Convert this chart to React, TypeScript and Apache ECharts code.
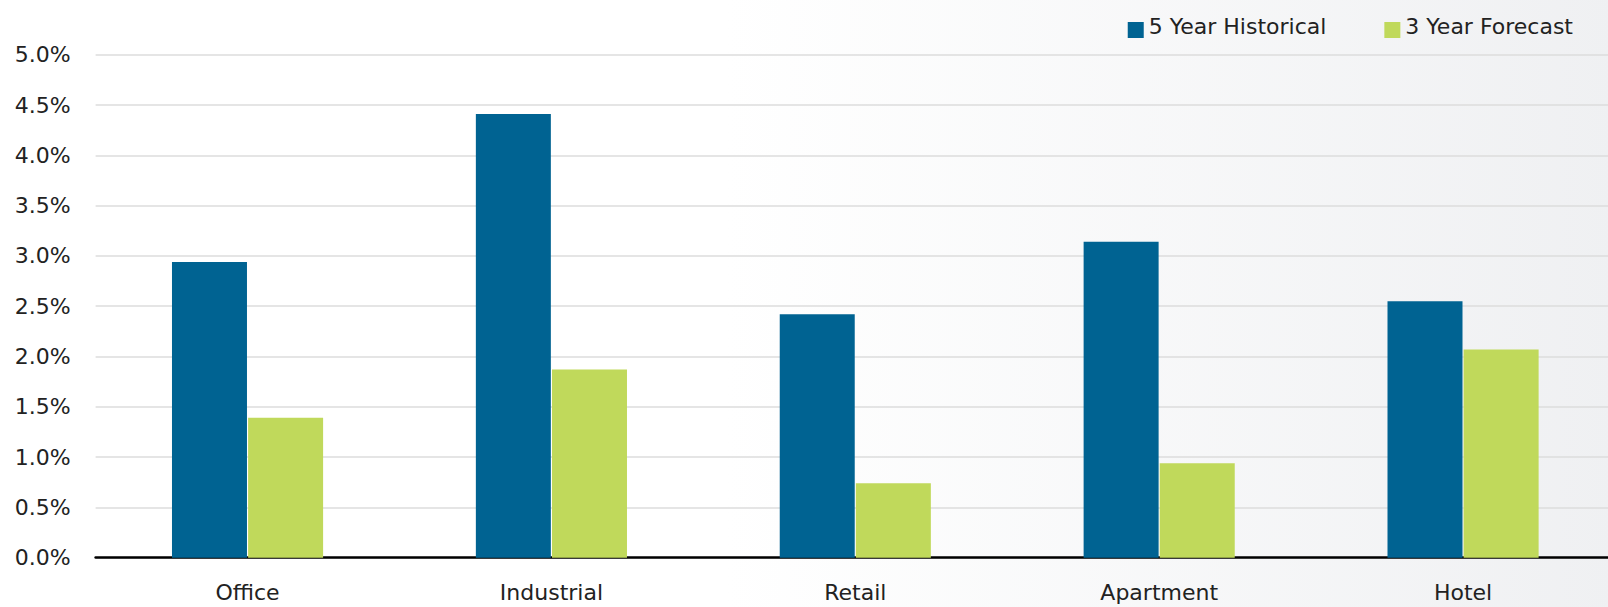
import React, { useEffect, useRef } from "react";
import * as echarts from "echarts";

const categories = ["Office", "Industrial", "Retail", "Apartment", "Hotel"];
const historical = [2.94, 4.41, 2.42, 3.14, 2.55];
const forecast = [1.39, 1.87, 0.74, 0.94, 2.07];
const seriesNames = ["5 Year Historical", "3 Year Forecast"];

const FONT = "'DejaVu Sans', sans-serif";
const TEXT = "#222222";
const LEGEND_ICON = "path://M0,0h0.01v0.01h-0.01z M0,8h16v16h-16z";

export default function App() {
  const ref = useRef<HTMLDivElement>(null);
  useEffect(() => {
    if (!ref.current) return;
    const chart = echarts.init(ref.current, null, { renderer: "svg" });
    chart.setOption({
      animation: false,
      backgroundColor: {
        type: "linear",
        x: 0,
        y: 0,
        x2: 1,
        y2: 0,
        colorStops: [
          { offset: 0, color: "#ffffff" },
          { offset: 0.45, color: "#ffffff" },
          { offset: 1, color: "#eff0f2" },
        ],
      },
      textStyle: { fontFamily: FONT },
      legend: {
        data: seriesNames.map((n) => ({ name: n, icon: LEGEND_ICON })),
        right: 37,
        top: 9,
        itemWidth: 16,
        itemHeight: 24,
        itemGap: 58,
        textStyle: { fontSize: 22, color: TEXT, fontFamily: FONT },
      },
      grid: { left: 95.6, right: 0, top: 54.7, bottom: 49.3 },
      xAxis: {
        type: "category",
        data: categories,
        axisLine: { lineStyle: { color: "#000000", width: 2.5 } },
        axisTick: { show: false },
        axisLabel: { fontSize: 22, color: TEXT, margin: 24, fontFamily: FONT },
      },
      yAxis: {
        type: "value",
        min: 0,
        max: 5,
        interval: 0.5,
        axisLine: { show: false },
        axisTick: { show: false },
        splitLine: { lineStyle: { color: "#dcdcdc", width: 1.5 } },
        axisLabel: {
          fontSize: 22,
          color: TEXT,
          margin: 25,
          fontFamily: FONT,
          formatter: (v: number) => v.toFixed(1) + "%",
        },
      },
      series: [
        {
          name: seriesNames[0],
          type: "bar",
          data: historical,
          barWidth: 75,
          barGap: "1.5%",
          itemStyle: { color: "#006392" },
        },
        {
          name: seriesNames[1],
          type: "bar",
          data: forecast,
          barWidth: 75,
          itemStyle: { color: "#c0d95b" },
        },
      ],
    });
    return () => chart.dispose();
  }, []);
  return (
    <div
      ref={ref}
      style={{ position: "fixed", left: 0, top: 0, width: 1615, height: 607 }}
    />
  );
}
